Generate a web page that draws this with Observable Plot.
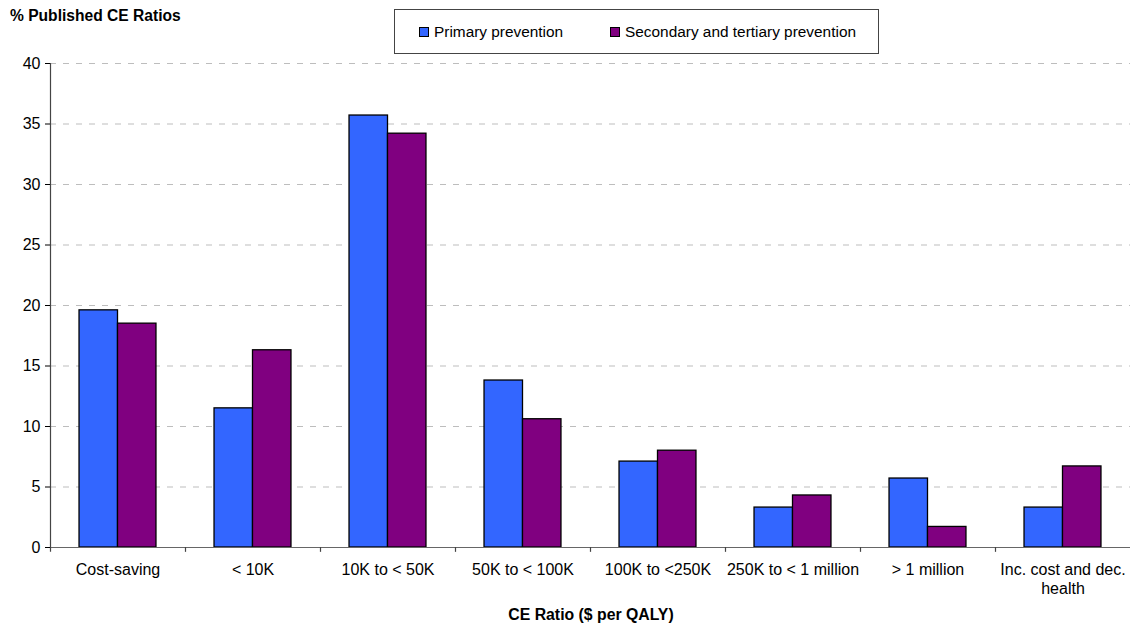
<!DOCTYPE html>
<html><head><meta charset="utf-8">
<script src="https://cdn.jsdelivr.net/npm/d3@7"></script>
<script src="https://cdn.jsdelivr.net/npm/@observablehq/plot@0.6"></script>
<style>
body{margin:0;background:#fff;font-family:"Liberation Sans",Arial,sans-serif;color:#000;}
#wrap{position:relative;width:1130px;height:627px;overflow:hidden;}
#chart{position:absolute;left:0;top:0;}
#title{position:absolute;left:10px;top:8px;font-weight:bold;font-size:15.6px;line-height:15px;white-space:nowrap;}
#legend{position:absolute;left:394px;top:9px;width:483px;height:43px;border:1px solid #444;box-sizing:content-box;font-size:15.4px;}
.item{position:absolute;top:14px;height:16px;line-height:16px;white-space:nowrap;}
.sw{display:inline-block;width:8px;height:8px;border:1px solid #000;vertical-align:middle;margin-right:5px;position:relative;top:-1px;}
#xlabel{position:absolute;left:0;width:1182px;text-align:center;top:607px;font-weight:bold;font-size:15.8px;line-height:16px;}
</style></head><body>
<div id="wrap">
<div id="chart"></div>
<div id="title"></div>
<div id="legend"></div>
<div id="xlabel"></div>
</div>
<script>
const titleText = "% Published CE Ratios";
const xLabelText = "CE Ratio ($ per QALY)";
const categories = ["Cost-saving", "< 10K", "10K to < 50K", "50K to < 100K", "100K to <250K", "250K to < 1 million", "> 1 million", "Inc. cost and dec. health"];
const tickLabels = ["Cost-saving", "< 10K", "10K to < 50K", "50K to < 100K", "100K to <250K", "250K to < 1 million", "> 1 million", "Inc. cost and dec.\nhealth"];
const seriesNames = ["Primary prevention", "Secondary and tertiary prevention"];
const primary = [19.6, 11.5, 35.7, 13.8, 7.1, 3.3, 5.7, 3.3];
const secondary = [18.5, 16.3, 34.2, 10.6, 8.0, 4.3, 1.7, 6.7];
const colors = ["#3366FF", "#800080"];
const yTicks = [0, 5, 10, 15, 20, 25, 30, 35, 40];

const W = 1130, H = 627, ML = 50, MR = 0, MT = 63, MB = 80;
const bw = (W - ML - MR) / categories.length;
const gap = bw * 0.215;
const barW = (bw - 2 * gap) / 2;

const primaryRows = categories.map((c, i) => ({category: c, value: primary[i], series: seriesNames[0]}));
const secondaryRows = categories.map((c, i) => ({category: c, value: secondary[i], series: seriesNames[1]}));

const chart = Plot.plot({
  width: W, height: H,
  marginLeft: ML, marginRight: MR, marginTop: MT, marginBottom: MB,
  style: {fontFamily: '"Liberation Sans", Arial, sans-serif', fontSize: "16px", color: "#000", background: "#fff"},
  x: {domain: categories, padding: 0, label: null},
  y: {domain: [0, 40], label: null},
  color: {domain: seriesNames, range: colors},
  marks: [
    Plot.ruleY(yTicks.filter(d => d > 0), {stroke: "#bdbdbd", strokeDasharray: "6,7", strokeWidth: 1}),
    Plot.barY(primaryRows, {x: "category", y: "value", fill: "series", stroke: "#000", strokeWidth: 1.3, insetLeft: gap, insetRight: gap + barW}),
    Plot.barY(secondaryRows, {x: "category", y: "value", fill: "series", stroke: "#000", strokeWidth: 1.3, insetLeft: gap + barW, insetRight: gap}),
    Plot.ruleY([0], {stroke: "#666", strokeWidth: 1.2}),
    Plot.ruleX([categories[0]], {dx: -bw / 2, y1: -0.4, y2: 40, stroke: "#444", strokeWidth: 1.2}),
    Plot.ruleX(categories.slice(1), {dx: -bw / 2, y1: -0.4, y2: 0, stroke: "#444", strokeWidth: 1.2}),
    Plot.axisY({ticks: yTicks, tickSize: 5, tickPadding: 5, label: null, fontSize: 16}),
    Plot.axisX({tickSize: 0, tickPadding: 14, label: null, fontSize: 16, lineHeight: 1.2,
      tickFormat: d => tickLabels[categories.indexOf(d)]})
  ]
});
document.getElementById("chart").appendChild(chart);
document.getElementById("title").textContent = titleText;
document.getElementById("xlabel").textContent = xLabelText;

const legend = document.getElementById("legend");
const positions = [24, 215];
seriesNames.forEach((name, i) => {
  const item = document.createElement("div");
  item.className = "item";
  item.style.left = positions[i] + "px";
  const sw = document.createElement("span");
  sw.className = "sw";
  sw.style.background = colors[i];
  item.appendChild(sw);
  item.appendChild(document.createTextNode(name));
  legend.appendChild(item);
});
</script>
</body></html>
